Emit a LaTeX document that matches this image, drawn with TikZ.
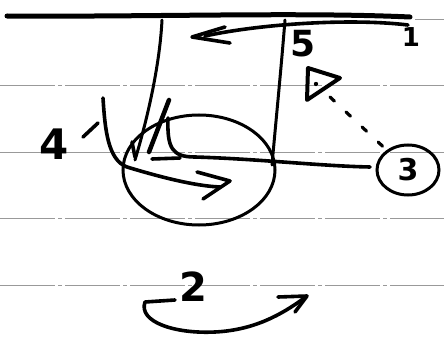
\documentclass[tikz,border=0pt]{standalone}
\usepackage{fontspec}
\setmainfont{DejaVu Sans}
\usetikzlibrary{shapes.geometric}
\begin{document}
\begin{tikzpicture}[x=1pt,y=-1pt,
  ink/.style={line width=3.6pt,line cap=round,line join=round},
  heavy/.style={line width=5pt,line cap=round},
  ruleline/.style={black!40,line width=0.7pt,dash pattern=on 55pt off 3pt on 4pt off 3pt},
  lbl/.style={inner sep=0pt},
  dashes/.style={line width=3.2pt,line cap=round,dash pattern=on 6pt off 16pt}]
\useasboundingbox (0,0) rectangle (444,350);
% ruled paper lines
\foreach \yy in {85,152,218,285} \draw[ruleline] (0,\yy) -- (444,\yy);
\draw[ruleline] (415,19) -- (444,19);
% heavy top line
\draw[heavy] (7,16) .. controls (150,17) and (300,12) .. (410,17);
% two vertical lines
\draw[ink,line width=3pt] (162,20) .. controls (160,60) and (150,110) .. (135,160);
\draw[ink,line width=3pt] (285,20) .. controls (281,70) and (276,120) .. (272,165);
% big circle
\node[draw,ellipse,line width=3pt,minimum width=152pt,minimum height=110pt,inner sep=0pt] (circ) at (199,170) {};
% circled 3
\node[draw,ellipse,line width=3pt,minimum width=62pt,minimum height=50pt,inner sep=0pt,
      font=\fontsize{30}{30}\selectfont\bfseries] (three) at (408,170) {3};
% horizontal line with hook
\draw[ink] (168,118) .. controls (167,148) and (172,157) .. (195,157)
  .. controls (260,159) and (320,166) .. (370,167);
\draw[ink] (152,159) -- (180,158);
% thick stroke inside circle
\draw[ink,line width=4.5pt] (169,100) -- (149,152);
\draw[ink] (132,142) -- (135,157);
% stroke from 4 arrow into circle arrow
\draw[ink] (103,98) .. controls (105,130) and (108,160) .. (127,167)
  .. controls (160,177) and (195,186) .. (220,187);
\draw[ink] (83,137) -- (98,123);
\draw[ink] (197,172) -- (230,181) -- (203,199);
% top arrow
\draw[ink] (408,25) .. controls (350,18) and (260,24) .. (205,36);
\draw[ink] (225,27) -- (192,37) -- (230,43);
% triangle with dot
\draw[ink,line width=4pt] (308,68) -- (340,78) -- (307,100) -- cycle;
\fill (316,84) circle (2.2pt);
\coordinate (trip) at (330,97);
\draw[dashes] (trip) -- (three);
% bottom arrow
\draw[ink] (175,300) -- (145,302) .. controls (138,322) and (175,334) .. (215,332)
  .. controls (255,330) and (282,314) .. (303,299);
\draw[ink] (278,297) -- (307,296) -- (295,312);
% labels
\node[lbl,font=\fontsize{26}{26}\selectfont\bfseries] (one) at (411,37) {1};
\node[lbl,font=\fontsize{36}{36}\selectfont\bfseries] (five) at (303,44) {5};
\node[lbl,font=\fontsize{42}{42}\selectfont\bfseries] (four) at (54,144) {4};
\node[lbl,font=\fontsize{40}{40}\selectfont\bfseries] (two) at (193,287) {2};
\end{tikzpicture}
\end{document}
